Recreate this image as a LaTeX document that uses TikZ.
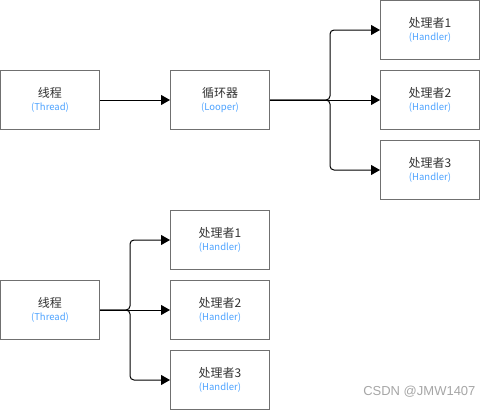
\documentclass[tikz,border=0pt]{standalone}
\usepackage{fontspec}
\setmainfont{Noto Sans CJK SC}
\newfontfamily\wmfont{Liberation Sans}
\usetikzlibrary{arrows.meta}
\definecolor{boxline}{HTML}{707070}
\definecolor{cjktext}{HTML}{333333}
\definecolor{entext}{HTML}{4DA3FF}
\tikzset{
  box/.style={draw=boxline, line width=1pt, minimum width=99pt, minimum height=59pt, inner sep=0pt, fill=white},
  arr/.style={draw=black, line width=1pt, -{Triangle[length=9pt,width=10pt]}, rounded corners=4pt},
}
\newcommand{\lbl}[2]{\shortstack{{\fontsize{12pt}{13pt}\selectfont\color{cjktext}#1}\\[1pt]{\fontsize{9.5pt}{10pt}\selectfont\color{entext}#2}}}
\begin{document}
\begin{tikzpicture}[x=1pt,y=-1pt]
\useasboundingbox (0,0) rectangle (480,410);
% top group
\node[box] (t1) at (50,100) {\lbl{线程}{(Thread)}};
\node[box] (lp) at (220,100) {\lbl{循环器}{(Looper)}};
\node[box] (h1) at (430,30) {\lbl{处理者1}{(Handler)}};
\node[box] (h2) at (430,100) {\lbl{处理者2}{(Handler)}};
\node[box] (h3) at (430,170) {\lbl{处理者3}{(Handler)}};
\coordinate (b1) at (330,100);
\draw[arr] (t1.east) -- (lp.west);
\draw[arr] (lp.east) -- (b1) |- (h1.west);
\draw[arr] (lp.east) -- (h2.west);
\draw[arr] (lp.east) -- (b1) |- (h3.west);
% bottom group
\node[box] (t2) at (50,310) {\lbl{线程}{(Thread)}};
\node[box] (g1) at (220,240) {\lbl{处理者1}{(Handler)}};
\node[box] (g2) at (220,310) {\lbl{处理者2}{(Handler)}};
\node[box] (g3) at (220,380) {\lbl{处理者3}{(Handler)}};
\coordinate (b2) at (130,310);
\draw[arr] (t2.east) -- (b2) |- (g1.west);
\draw[arr] (t2.east) -- (g2.west);
\draw[arr] (t2.east) -- (b2) |- (g3.west);
% watermark
\node[anchor=east, text=gray!70, font=\wmfont\fontsize{13pt}{14pt}\selectfont] (wm) at (479,392) {CSDN @JMW1407};
\end{tikzpicture}
\end{document}
